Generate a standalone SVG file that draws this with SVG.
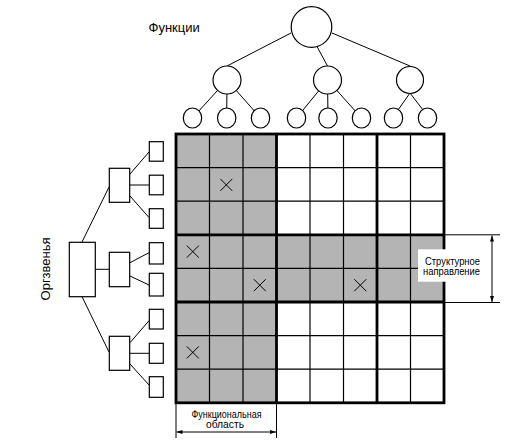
<svg xmlns="http://www.w3.org/2000/svg" width="514" height="440" viewBox="0 0 514 440">
<style>
.ln{stroke:#000;stroke-width:1;fill:none}
.nd{stroke:#000;stroke-width:1.2;fill:#fff}
.thin{stroke:#000;stroke-width:1.2}
.thick{stroke:#000;stroke-width:2.8}
.sh{fill:#b4b4b4}
.x{stroke:#000;stroke-width:1}
.t{font-family:"Liberation Sans",Arial,sans-serif;fill:#000}
</style>
<defs>
<marker id="ar" viewBox="0 0 6 6" refX="6" refY="3" markerWidth="6" markerHeight="6" markerUnits="userSpaceOnUse" orient="auto-start-reverse"><path d="M0,1 L6,3 L0,5 z" fill="#000"/></marker>
</defs>
<rect width="514" height="440" fill="#fff"/>

<g id="connectors">
<line class="ln" x1="291" y1="33" x2="227" y2="66"/>
<line class="ln" x1="317" y1="46.5" x2="327.5" y2="66"/>
<line class="ln" x1="332" y1="33" x2="410" y2="66"/>
<line class="ln" x1="227" y1="80" x2="192.5" y2="118"/>
<line class="ln" x1="227" y1="80" x2="226.7" y2="118"/>
<line class="ln" x1="227" y1="80" x2="260.5" y2="118"/>
<line class="ln" x1="327.5" y1="80" x2="296.5" y2="118"/>
<line class="ln" x1="327.5" y1="80" x2="328" y2="118"/>
<line class="ln" x1="327.5" y1="80" x2="361.5" y2="118"/>
<line class="ln" x1="410" y1="93" x2="398" y2="110"/>
<line class="ln" x1="410" y1="93" x2="423" y2="110"/>
<line class="ln" x1="82" y1="242" x2="109" y2="187"/>
<line class="ln" x1="95" y1="269.3" x2="109" y2="269.3"/>
<line class="ln" x1="82" y1="296.7" x2="109" y2="352"/>
<line class="ln" x1="130" y1="174" x2="149" y2="152"/>
<line class="ln" x1="130" y1="185" x2="149" y2="185"/>
<line class="ln" x1="130" y1="196" x2="149" y2="217.5"/>
<line class="ln" x1="130" y1="262.7" x2="149" y2="252.7"/>
<line class="ln" x1="130" y1="276" x2="149" y2="285"/>
<line class="ln" x1="130" y1="342.7" x2="149" y2="320.7"/>
<line class="ln" x1="130" y1="353.3" x2="149" y2="353.3"/>
<line class="ln" x1="130" y1="364" x2="149" y2="385"/>
</g>

<g id="f-root"><circle class="nd" cx="311.5" cy="27" r="20.3"/></g>
<g id="f-1"><circle class="nd" cx="227" cy="80" r="14"/></g>
<g id="f-2"><circle class="nd" cx="327.5" cy="80" r="14"/></g>
<g id="f-3"><circle class="nd" cx="410" cy="80" r="13.5"/></g>
<g id="f-1-1"><ellipse class="nd" cx="192.5" cy="118" rx="9.2" ry="10"/></g>
<g id="f-1-2"><ellipse class="nd" cx="226.7" cy="118" rx="9.2" ry="10"/></g>
<g id="f-1-3"><ellipse class="nd" cx="260.5" cy="118" rx="9.2" ry="10"/></g>
<g id="f-2-1"><ellipse class="nd" cx="296.5" cy="118" rx="9.2" ry="10"/></g>
<g id="f-2-2"><ellipse class="nd" cx="328" cy="118" rx="9.2" ry="10"/></g>
<g id="f-2-3"><ellipse class="nd" cx="361.5" cy="118" rx="9.2" ry="10"/></g>
<g id="f-3-1"><ellipse class="nd" cx="393.5" cy="118" rx="9.2" ry="10"/></g>
<g id="f-3-2"><ellipse class="nd" cx="427.5" cy="118" rx="9.2" ry="10"/></g>

<g id="o-root"><rect class="nd" x="69.3" y="242.3" width="26" height="54.4"/></g>
<g id="o-1"><rect class="nd" x="109.3" y="168.3" width="20.4" height="34"/></g>
<g id="o-2"><rect class="nd" x="109.3" y="252.3" width="20.4" height="34.4"/></g>
<g id="o-3"><rect class="nd" x="109.3" y="336.3" width="20.4" height="34"/></g>
<g id="o-1-1"><rect class="nd" x="149.3" y="141.7" width="14" height="19.5"/></g>
<g id="o-1-2"><rect class="nd" x="149.3" y="175.2" width="14" height="19.6"/></g>
<g id="o-1-3"><rect class="nd" x="149.3" y="208.7" width="14" height="19.6"/></g>
<g id="o-2-1"><rect class="nd" x="149.3" y="242.7" width="14" height="21.3"/></g>
<g id="o-2-2"><rect class="nd" x="149.3" y="273.3" width="14" height="22.7"/></g>
<g id="o-3-1"><rect class="nd" x="149.3" y="309.3" width="14" height="19.7"/></g>
<g id="o-3-2"><rect class="nd" x="149.3" y="343.3" width="14" height="20"/></g>
<g id="o-3-3"><rect class="nd" x="149.3" y="376.7" width="14" height="20.6"/></g>

<g id="matrix">
<rect class="sh" x="176" y="134" width="100.5" height="268.8"/>
<rect class="sh" x="176" y="234.8" width="268" height="67.2"/>
<line class="thin" x1="209.5" y1="134" x2="209.5" y2="402.8"/>
<line class="thin" x1="243" y1="134" x2="243" y2="402.8"/>
<line class="thin" x1="310" y1="134" x2="310" y2="402.8"/>
<line class="thin" x1="343.5" y1="134" x2="343.5" y2="402.8"/>
<line class="thin" x1="410.5" y1="134" x2="410.5" y2="402.8"/>
<line class="thin" x1="176" y1="167.6" x2="444" y2="167.6"/>
<line class="thin" x1="176" y1="201.2" x2="444" y2="201.2"/>
<line class="thin" x1="176" y1="268.4" x2="444" y2="268.4"/>
<line class="thin" x1="176" y1="335.6" x2="444" y2="335.6"/>
<line class="thin" x1="176" y1="369.2" x2="444" y2="369.2"/>
<line class="thick" x1="276.5" y1="134" x2="276.5" y2="402.8"/>
<line class="thick" x1="377" y1="134" x2="377" y2="402.8"/>
<line class="thick" x1="176" y1="234.8" x2="444" y2="234.8"/>
<line class="thick" x1="176" y1="302" x2="444" y2="302"/>
<rect x="176" y="134" width="268" height="268.8" fill="none" stroke="#000" stroke-width="2.8"/>
<path class="x" d="M220.3,178.9 l12,12 M232.3,178.9 l-12,12"/>
<path class="x" d="M186.8,245.6 l12,12 M198.8,245.6 l-12,12"/>
<path class="x" d="M253.8,279.2 l12,12 M265.8,279.2 l-12,12"/>
<path class="x" d="M354.3,279.2 l12,12 M366.3,279.2 l-12,12"/>
<path class="x" d="M186.8,346.4 l12,12 M198.8,346.4 l-12,12"/>
</g>

<g id="dim-struct">
<line class="ln" x1="445" y1="234.8" x2="500" y2="234.8"/>
<line class="ln" x1="445" y1="302.5" x2="500" y2="302.5"/>
<line class="ln" x1="492" y1="235.5" x2="492" y2="302" marker-start="url(#ar)" marker-end="url(#ar)"/>
<rect x="418" y="249.3" width="62" height="32.4" fill="#fff"/>
<text class="t" x="452.5" y="264.5" font-size="10.5" text-anchor="middle" textLength="55" lengthAdjust="spacingAndGlyphs">Структурное</text>
<text class="t" x="451.5" y="275" font-size="10.5" text-anchor="middle" textLength="57" lengthAdjust="spacingAndGlyphs">направление</text>
</g>

<g id="dim-func">
<line class="ln" x1="176" y1="404" x2="176" y2="438"/>
<line class="ln" x1="276.5" y1="404" x2="276.5" y2="438"/>
<line class="ln" x1="176.5" y1="432" x2="276" y2="432" marker-start="url(#ar)" marker-end="url(#ar)"/>
<text class="t" x="226.5" y="417.5" font-size="10.5" text-anchor="middle" textLength="70" lengthAdjust="spacingAndGlyphs">Функциональная</text>
<text class="t" x="225" y="428" font-size="10.5" text-anchor="middle" textLength="38" lengthAdjust="spacingAndGlyphs">область</text>
</g>

<text class="t" x="148.5" y="32" font-size="13">Функции</text>
<text class="t" x="0" y="0" font-size="13" text-anchor="middle" transform="translate(49.5,269) rotate(-90)">Оргзвенья</text>
</svg>
